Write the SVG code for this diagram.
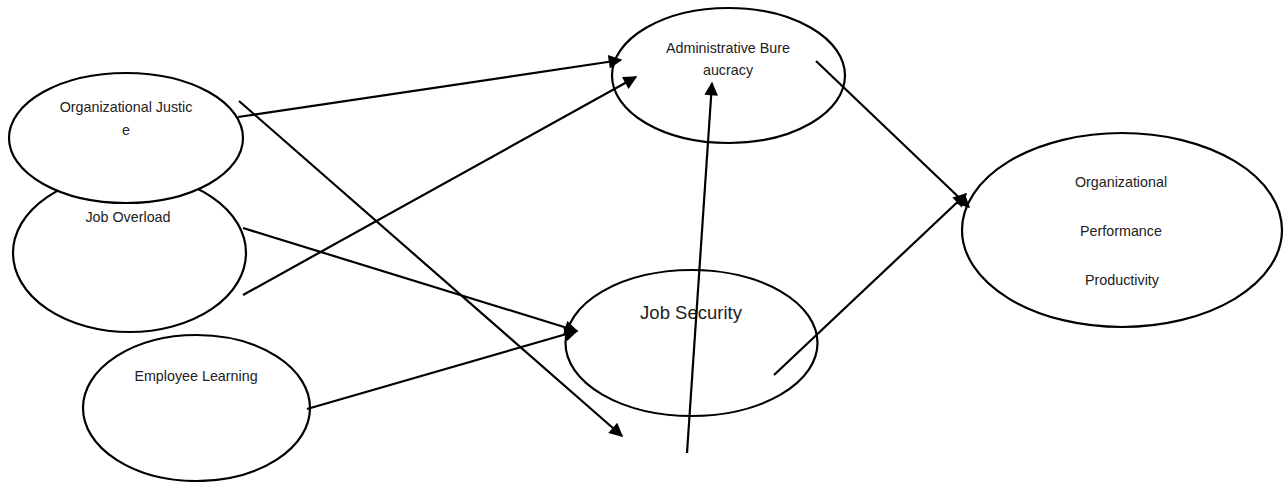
<svg xmlns="http://www.w3.org/2000/svg" width="1284" height="482" viewBox="0 0 1284 482">
<style>
.node{fill:#fff;stroke:#000;stroke-width:2.2}
.lbl{font-family:"Liberation Sans",Arial,sans-serif;font-size:14.3px;fill:#222;text-anchor:middle}
.big{font-size:18.5px}
.conn line{stroke:#000;stroke-width:2.2;marker-end:url(#ah)}
</style>
<defs>
<marker id="ah" viewBox="0 0 10 10" refX="9" refY="5" markerWidth="7" markerHeight="6.2" orient="auto" markerUnits="strokeWidth">
<path d="M0,0 L10,5 L0,10 z" fill="#000"/>
</marker>
</defs>
<rect width="1284" height="482" fill="#fff"/>
<g id="job-overload">
<ellipse class="node" cx="129.5" cy="253" rx="116.5" ry="79"/>
<text class="lbl" x="128" y="222">Job Overload</text>
</g>
<g id="organizational-justice">
<ellipse class="node" cx="126" cy="138" rx="117" ry="65"/>
<text class="lbl" x="126" y="112">Organizational Justic</text>
<text class="lbl" x="126" y="135">e</text>
</g>
<g id="employee-learning">
<ellipse class="node" cx="196.5" cy="408" rx="113.5" ry="73"/>
<text class="lbl" x="196" y="381">Employee Learning</text>
</g>
<g id="administrative-bureaucracy">
<ellipse class="node" cx="728.5" cy="75.5" rx="116.5" ry="67.5"/>
<text class="lbl" x="728" y="53">Administrative Bure</text>
<text class="lbl" x="728" y="75">aucracy</text>
</g>
<g id="job-security">
<ellipse class="node" cx="691.5" cy="343" rx="126" ry="73"/>
<text class="lbl big" x="691" y="319">Job Security</text>
</g>
<g id="organizational-performance">
<ellipse class="node" cx="1122" cy="230" rx="160" ry="97"/>
<text class="lbl" x="1121" y="187">Organizational</text>
<text class="lbl" x="1121" y="236">Performance</text>
<text class="lbl" x="1122" y="285">Productivity</text>
</g>
<g id="connectors" class="conn">
<line x1="238" y1="117" x2="621" y2="60"/>
<line x1="239" y1="101" x2="622" y2="436"/>
<line x1="243" y1="295" x2="636" y2="77"/>
<line x1="243" y1="228" x2="577" y2="331"/>
<line x1="307" y1="409" x2="577" y2="331"/>
<line x1="687" y1="453" x2="712" y2="83"/>
<line x1="816" y1="61" x2="969" y2="207"/>
<line x1="774" y1="375" x2="966" y2="194"/>
</g>
</svg>
